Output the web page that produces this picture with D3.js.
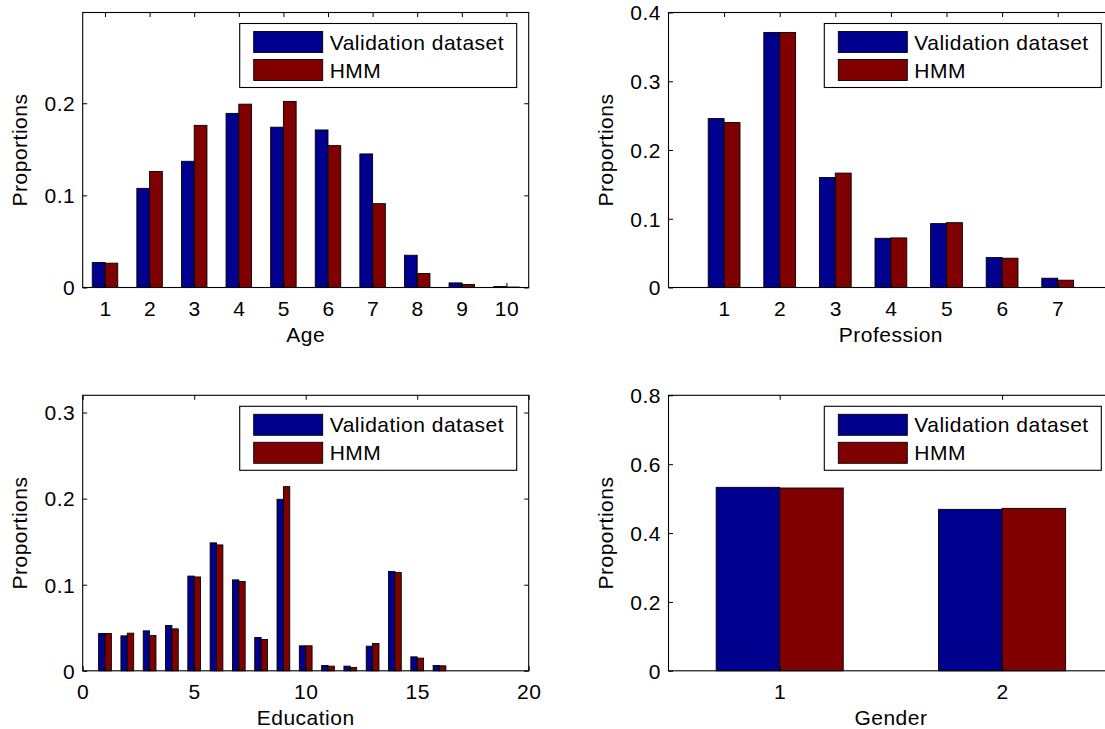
<!DOCTYPE html>
<html>
<head>
<meta charset="utf-8">
<script src="https://cdn.jsdelivr.net/npm/d3@7"></script>
<style>
  html, body { margin: 0; padding: 0; background: #fff; overflow: hidden; }
  svg { display: block; }
  text { font-family: "Liberation Sans", Arial, Helvetica, sans-serif; font-size: 21px; letter-spacing: 0.5px; fill: #000; }
</style>
</head>
<body>
<svg id="fig" width="1105" height="729"></svg>
<script>
// ---- data ----
const seriesNames = ["Validation dataset", "HMM"];

const ageCategories = [1, 2, 3, 4, 5, 6, 7, 8, 9, 10];
const ageValidation = [0.0272, 0.1076, 0.137, 0.189, 0.174, 0.171, 0.145, 0.035, 0.005, 0.001];
const ageHMM        = [0.0264, 0.126, 0.176, 0.199, 0.202, 0.154, 0.091, 0.0152, 0.0033, 0.0005];
const ageXTicks = [1, 2, 3, 4, 5, 6, 7, 8, 9, 10];
const ageYTicks = [0, 0.1, 0.2];

const professionCategories = [1, 2, 3, 4, 5, 6, 7];
const professionValidation = [0.2457, 0.371, 0.160, 0.0716, 0.0929, 0.0435, 0.0135];
const professionHMM        = [0.2399, 0.371, 0.1664, 0.0721, 0.0943, 0.0426, 0.0106];
const professionXTicks = [1, 2, 3, 4, 5, 6, 7];
const professionYTicks = [0, 0.1, 0.2, 0.3, 0.4];

const educationCategories = [1, 2, 3, 4, 5, 6, 7, 8, 9, 10, 11, 12, 13, 14, 15, 16];
const educationValidation = [0.0433, 0.0406, 0.0464, 0.0526, 0.110, 0.1486, 0.1056, 0.0387,
                             0.1992, 0.029, 0.0062, 0.0054, 0.0286, 0.1153, 0.0162, 0.0062];
const educationHMM        = [0.0433, 0.0437, 0.041, 0.0487, 0.109, 0.1462, 0.1037, 0.0364,
                             0.2139, 0.029, 0.0054, 0.0039, 0.0317, 0.1141, 0.0147, 0.0058];
const educationXTicks = [0, 5, 10, 15, 20];
const educationYTicks = [0, 0.1, 0.2, 0.3];

const genderCategories = [1, 2];
const genderValidation = [0.5327, 0.4688];
const genderHMM        = [0.5308, 0.4717];
const genderXTicks = [1, 2];
const genderYTicks = [0, 0.2, 0.4, 0.6, 0.8];

// ---- styling ----
const colors = ["#00008f", "#800000"];
const barWidth = 2 / 7;       // width of one bar in category units (two bars per group)
const tickLen = 4.5;

const svg = d3.select("#fig");

const panels = [
  { box: [82.7, 12.5, 528.7, 287.5], xDomain: [0.5, 10.5], yDomain: [0, 0.2985],
    cats: ageCategories, series: [ageValidation, ageHMM],
    xTicks: ageXTicks, yTicks: ageYTicks, xLabel: "Age" },
  { box: [668.5, 12.5, 1113.3, 287.5], xDomain: [0, 8], yDomain: [0, 0.4],
    cats: professionCategories, series: [professionValidation, professionHMM],
    xTicks: professionXTicks, yTicks: professionYTicks, xLabel: "Profession" },
  { box: [82.7, 395.3, 528.7, 670.8], xDomain: [0, 20], yDomain: [0, 0.32],
    cats: educationCategories, series: [educationValidation, educationHMM],
    xTicks: educationXTicks, yTicks: educationYTicks, xLabel: "Education" },
  { box: [668.5, 395.3, 1113.3, 670.8], xDomain: [0.5, 2.5], yDomain: [0, 0.8],
    cats: genderCategories, series: [genderValidation, genderHMM],
    xTicks: genderXTicks, yTicks: genderYTicks, xLabel: "Gender" }
];

function fmt(v) { return v === 0 ? "0" : String(+v.toFixed(2)); }

panels.forEach(p => {
  const [x0, y0, x1, y1] = p.box;
  const x = d3.scaleLinear().domain(p.xDomain).range([x0, x1]);
  const y = d3.scaleLinear().domain(p.yDomain).range([y1, y0]);
  const g = svg.append("g");

  // grouped bars
  p.series.forEach((vals, si) => {
    const offset = (si - 0.5) * barWidth;
    g.append("g").selectAll("rect")
      .data(p.cats.map((c, i) => ({ c, v: vals[i] })))
      .join("rect")
      .attr("x", d => x(d.c + offset - barWidth / 2))
      .attr("width", d => x(d.c + offset + barWidth / 2) - x(d.c + offset - barWidth / 2))
      .attr("y", d => y(d.v))
      .attr("height", d => y(0) - y(d.v))
      .attr("fill", colors[si])
      .attr("stroke", "#000")
      .attr("stroke-width", 0.9);
  });

  // axes: bottom/left with labels, top/right mirrored ticks only
  const axStyle = sel => {
    sel.select(".domain").remove();
    sel.selectAll(".tick line").attr("stroke", "#000").attr("stroke-width", 1);
  };

  const xb = g.append("g").attr("transform", `translate(0,${y1})`)
    .call(d3.axisBottom(x).tickValues(p.xTicks).tickSizeInner(-tickLen).tickSizeOuter(0).tickPadding(0).tickFormat(d3.format("d")));
  axStyle(xb);
  xb.selectAll(".tick text").attr("y", 28.5).attr("dy", null).attr("font-size", null).attr("font-family", null).attr("fill", "#000");

  const xt = g.append("g").attr("transform", `translate(0,${y0})`)
    .call(d3.axisTop(x).tickValues(p.xTicks).tickSizeInner(-tickLen).tickSizeOuter(0).tickFormat(""));
  axStyle(xt);

  const yl = g.append("g").attr("transform", `translate(${x0},0)`)
    .call(d3.axisLeft(y).tickValues(p.yTicks).tickSizeInner(-tickLen).tickSizeOuter(0).tickFormat(fmt));
  axStyle(yl);
  yl.selectAll(".tick text").attr("x", -7.5).attr("dy", "0.35em").attr("font-size", null).attr("font-family", null).attr("fill", "#000");

  const yr = g.append("g").attr("transform", `translate(${x1},0)`)
    .call(d3.axisRight(y).tickValues(p.yTicks).tickSizeInner(-tickLen).tickSizeOuter(0).tickFormat(""));
  axStyle(yr);

  // axes box
  g.append("rect")
    .attr("x", x0).attr("y", y0).attr("width", x1 - x0).attr("height", y1 - y0)
    .attr("fill", "none").attr("stroke", "#000").attr("stroke-width", 1.1);

  // axis titles
  g.append("text")
    .attr("x", (x0 + x1) / 2).attr("y", y1 + 54)
    .attr("text-anchor", "middle").text(p.xLabel);
  g.append("text")
    .attr("transform", `translate(${x0 - 56},${(y0 + y1) / 2}) rotate(-90)`)
    .attr("text-anchor", "middle").text("Proportions");

  // legend
  const lw = 277, lh = 64;
  const lx = x1 - 12 - lw, ly = y0 + 11;
  const lg = g.append("g").attr("transform", `translate(${lx},${ly})`);
  lg.append("rect").attr("width", lw).attr("height", lh)
    .attr("fill", "#fff").attr("stroke", "#000").attr("stroke-width", 1.1);
  seriesNames.forEach((name, i) => {
    lg.append("rect")
      .attr("x", 14).attr("y", 8 + i * 28).attr("width", 69).attr("height", 21)
      .attr("fill", colors[i]).attr("stroke", "#000").attr("stroke-width", 0.9);
    lg.append("text").attr("x", 90).attr("y", 26 + i * 28).text(name);
  });
});
</script>
</body>
</html>
